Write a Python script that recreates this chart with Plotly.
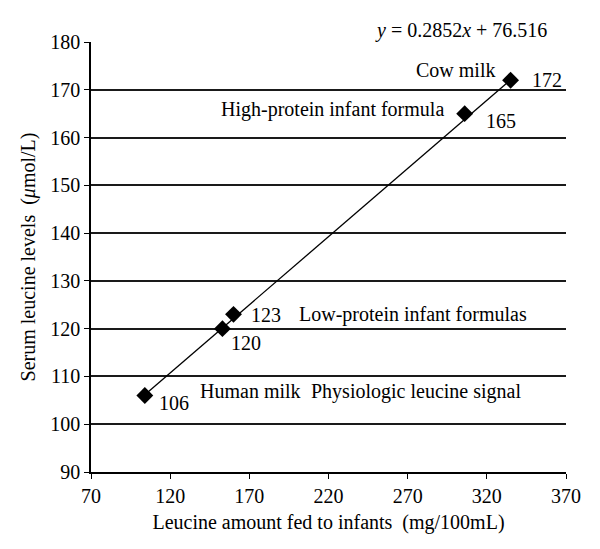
import plotly.graph_objects as go

# data
leucine_fed = [104, 153, 160, 306, 335]
serum_leucine = [106, 120, 123, 165, 172]
slope = 0.2852
intercept = 76.516

group_labels = ['Human milk', 'Physiologic leucine signal', 'Low-protein infant formulas',
                'High-protein infant formula', 'Cow milk']

FONT = 'Liberation Serif'
FS = 20

points = go.Scatter(
    x=leucine_fed, y=serum_leucine, mode='markers',
    marker=dict(symbol='diamond', size=13, color='black'),
    showlegend=False, hoverinfo='x+y',
)
trend_x = [min(leucine_fed), max(leucine_fed)]
trend_y = [slope * v + intercept for v in trend_x]
trend = go.Scatter(
    x=trend_x, y=trend_y, mode='lines',
    line=dict(color='black', width=1.3),
    showlegend=False, hoverinfo='skip',
)

fig = go.Figure(data=[trend, points])

# value labels next to each marker (offsets in px)
label_shifts = [(12, -7), (7, -14), (15, -1), (19, -7), (19, 0)]
annotations = []
for xv, yv, (dx, dy) in zip(leucine_fed, serum_leucine, label_shifts):
    annotations.append(dict(
        x=xv, y=yv, text=str(yv), showarrow=False,
        xanchor='left', yanchor='middle', xshift=dx, yshift=dy,
        font=dict(family=FONT, size=FS, color='black'),
    ))

# group text labels
group_pos = [
    (137.5, 106.9, 'left'),
    (207.5, 106.9, 'left'),
    (200, 123.0, 'left'),
    (294.5, 165.9, 'right'),
    (326.5, 174.2, 'right'),
]
for text, (xv, yv, anchor) in zip(group_labels, group_pos):
    annotations.append(dict(
        x=xv, y=yv, text=text, showarrow=False,
        xanchor=anchor, yanchor='middle',
        font=dict(family=FONT, size=FS, color='black'),
    ))

annotations.append(dict(
    x=0.965, y=0.996, xref='paper', yref='paper', yanchor='bottom', xanchor='right',
    text='<i>y</i> = %.4f<i>x</i> + %.3f' % (slope, intercept), showarrow=False,
    font=dict(family=FONT, size=FS, color='black'),
))

fig.update_layout(
    width=600, height=549,
    margin=dict(l=83, r=42, t=34, b=85),
    plot_bgcolor='white', paper_bgcolor='white',
    font=dict(family=FONT, size=FS, color='black'),
    annotations=annotations,
    xaxis=dict(
        range=[70, 370], tick0=70, dtick=50, showgrid=False, zeroline=False,
        showline=True, linecolor='black', linewidth=1.5,
        ticks='outside', ticklen=5, tickcolor='black', tickwidth=1.3,
        title=dict(text='Leucine amount fed to infants  (mg/100mL)', standoff=9,
                   font=dict(family=FONT, size=FS)),
        tickfont=dict(family=FONT, size=FS),
    ),
    yaxis=dict(
        range=[90, 180], tick0=90, dtick=10, showgrid=True,
        gridcolor='#1a1a1a', gridwidth=1.5, zeroline=False,
        showline=True, linecolor='black', linewidth=1.5,
        ticks='outside', ticklen=5, tickcolor='black', tickwidth=1.3,
        title=dict(text='Serum leucine levels  (<i>μ</i>mol/L)', standoff=9,
                   font=dict(family=FONT, size=FS)),
        tickfont=dict(family=FONT, size=FS),
    ),
)

fig.write_html("out.html")
